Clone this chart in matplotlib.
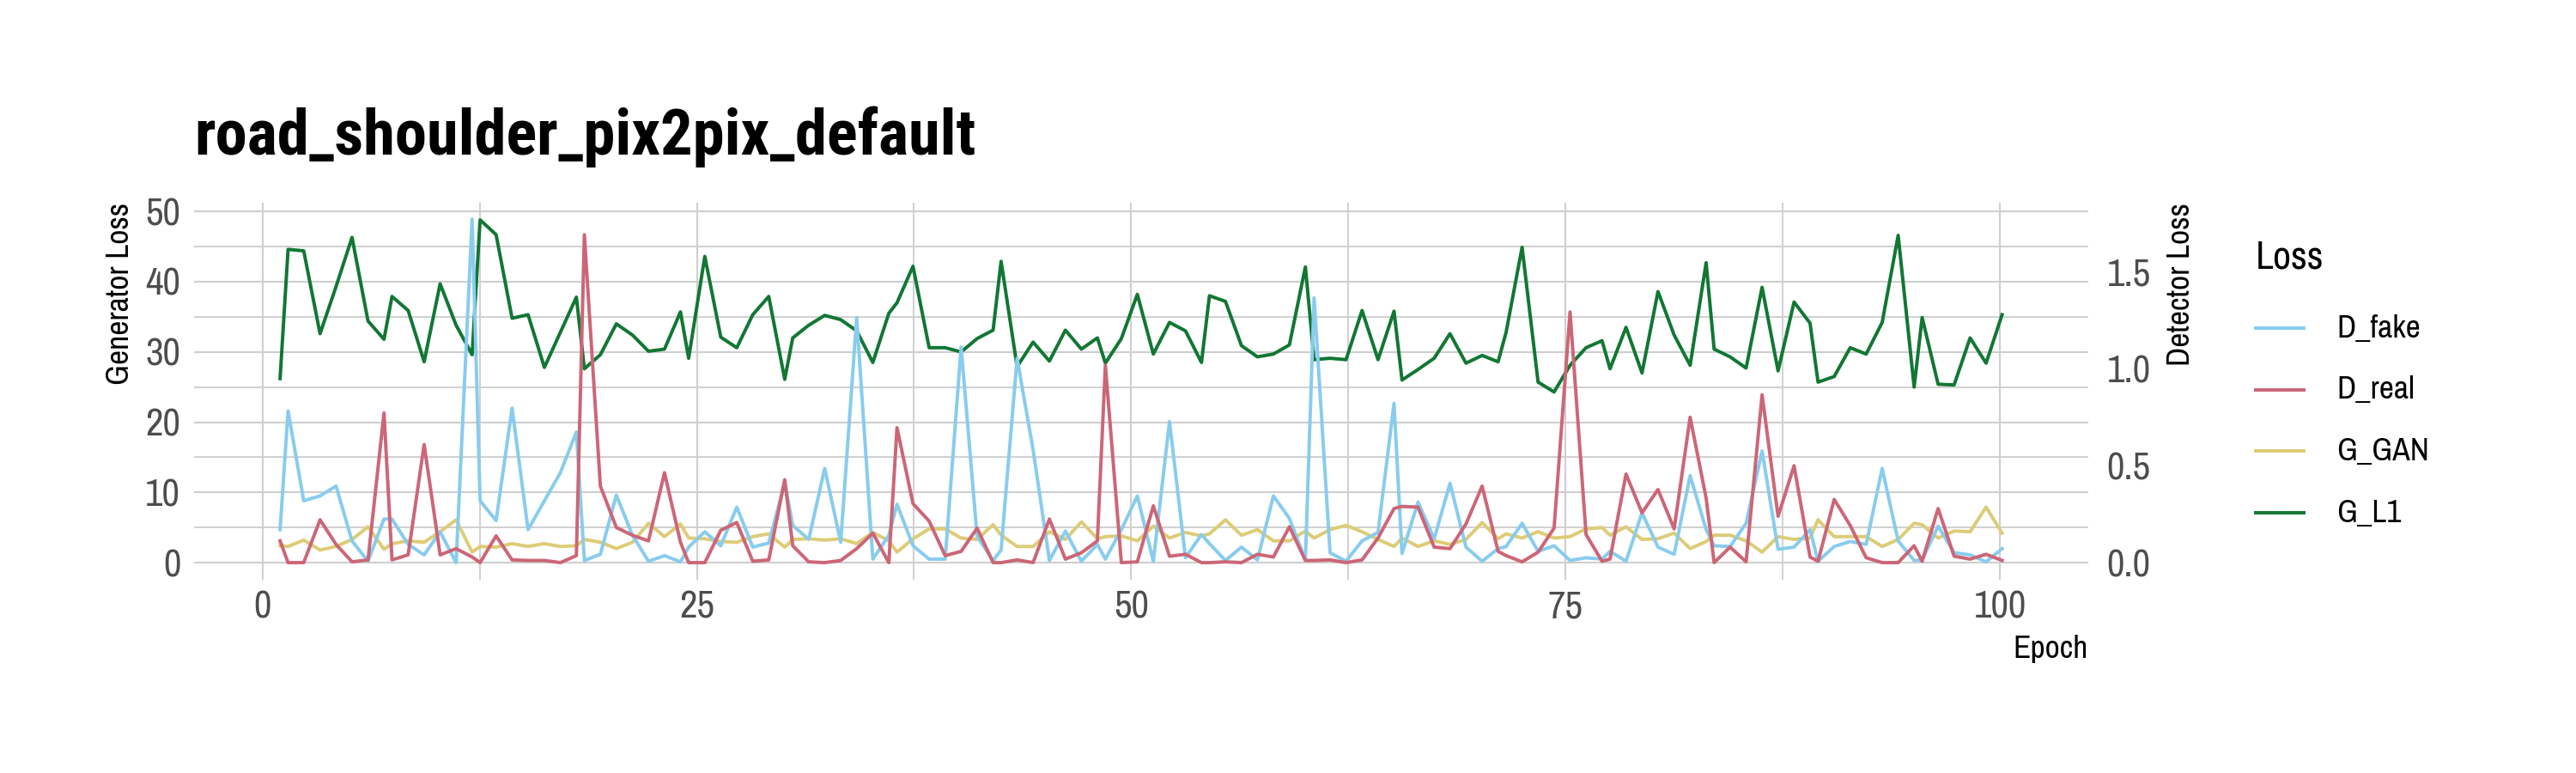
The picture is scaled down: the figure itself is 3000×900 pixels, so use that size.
import matplotlib
matplotlib.use("Agg")
import matplotlib.pyplot as plt
from matplotlib import font_manager
from matplotlib.lines import Line2D

# Data (x = fractional epoch)
epoch = [1.02, 1.48, 2.38, 3.32, 4.24, 5.16, 6.08, 7.00, 7.46, 8.39, 9.31, 10.23, 11.15, 12.07,
         12.53, 13.45, 14.37, 15.29, 16.23, 17.15, 18.07, 18.53, 19.45, 20.37,
         21.30, 22.22, 23.14, 24.06, 24.53, 25.46, 26.38, 27.30, 28.22, 29.14, 30.06, 30.52,
         31.44, 32.36, 33.28, 34.20, 35.13, 36.05, 36.52, 37.44, 38.37, 39.29, 40.21,
         41.13, 42.05, 42.51, 43.43, 44.35, 45.29, 46.21, 47.13, 48.05, 48.51, 49.43, 50.35,
         51.27, 52.20, 53.12, 54.04, 54.50, 55.42, 56.34, 57.26, 58.18, 59.10, 60.02, 60.52,
         61.44, 62.36, 63.28, 64.20, 65.12, 65.58, 66.50, 67.43, 68.34, 69.26, 70.19, 71.11,
         71.57, 72.49, 73.41, 74.33, 75.25, 76.17, 77.09, 77.55, 78.47, 79.39, 80.31,
         81.24, 82.16, 83.08, 83.54, 84.46, 85.38, 86.30, 87.22, 88.14, 89.06, 89.52, 90.45,
         91.37, 92.29, 93.21, 94.13, 95.05, 95.51, 96.43, 97.35, 98.27, 99.19, 100.11]

# generator losses (left axis)
g_l1 = [26.2, 44.6, 44.4, 32.6, 39.3, 46.3, 34.4, 31.8, 37.9, 35.9, 28.6, 39.7, 33.8, 29.6,
        48.8, 46.7, 34.8, 35.3, 27.8, 32.8, 37.8, 27.6, 29.6, 34.0,
        32.4, 30.1, 30.4, 35.7, 29.1, 43.6, 32.1, 30.6, 35.3, 37.9, 26.1, 32.0,
        33.8, 35.2, 34.6, 33.0, 28.5, 35.5, 37.0, 42.2, 30.6, 30.6, 30.0,
        31.9, 33.1, 42.9, 27.9, 31.4, 28.7, 33.1, 30.4, 32.0, 28.4, 31.9, 38.2,
        29.7, 34.2, 33.0, 28.5, 38.0, 37.2, 30.9, 29.3, 29.7, 31.0, 42.1, 28.9,
        29.1, 28.9, 35.9, 28.9, 35.8, 26.0, 27.5, 29.1, 32.6, 28.4, 29.5, 28.6,
        32.8, 44.9, 25.7, 24.3, 28.1, 30.6, 31.6, 27.6, 33.5, 27.0, 38.6,
        32.4, 28.1, 42.7, 30.4, 29.3, 27.7, 39.2, 27.3, 37.1, 34.1, 25.7, 26.5,
        30.6, 29.7, 34.2, 46.6, 25.0, 34.9, 25.4, 25.3, 32.0, 28.4, 35.3]

g_gan = [2.4, 2.3, 3.2, 1.8, 2.3, 3.3, 5.1, 1.9, 2.7, 3.1, 2.9, 4.4, 6.1, 1.5,
         2.3, 2.2, 2.7, 2.3, 2.7, 2.3, 2.4, 3.3, 2.9, 2.0,
         2.9, 5.6, 3.7, 5.5, 3.5, 3.4, 3.0, 2.9, 3.7, 4.1, 2.2, 3.3,
         3.4, 3.2, 3.4, 2.7, 4.3, 3.1, 1.5, 3.4, 4.8, 4.8, 3.5,
         3.3, 5.4, 3.9, 2.3, 2.3, 4.4, 3.3, 5.8, 3.4, 3.7, 3.8, 3.1,
         5.2, 3.5, 4.3, 3.8, 4.1, 6.1, 3.9, 4.7, 3.1, 3.1, 4.5, 3.5,
         4.7, 5.3, 4.4, 3.3, 2.3, 3.5, 2.3, 3.1, 2.6, 3.3, 5.7, 3.4,
         4.1, 3.5, 4.4, 3.5, 3.7, 4.8, 5.0, 3.9, 5.1, 3.3, 3.4,
         4.2, 2.0, 3.0, 3.9, 3.9, 3.1, 1.5, 3.7, 3.3, 3.5, 6.1, 3.7,
         3.7, 3.7, 2.3, 3.3, 5.6, 5.4, 3.5, 4.5, 4.4, 7.9, 4.2]

# detector losses (right axis)
d_fake = [0.170, 0.783, 0.319, 0.344, 0.395, 0.112, 0.007, 0.225, 0.225, 0.094, 0.040, 0.159,
          0.000, 1.772, 0.319, 0.217, 0.797, 0.170, 0.319, 0.464, 0.674, 0.011, 0.043, 0.348,
          0.141, 0.007, 0.036, 0.004, 0.080, 0.159, 0.087, 0.286, 0.080, 0.101, 0.413, 0.192,
          0.120, 0.486, 0.105, 1.264, 0.018, 0.141, 0.301, 0.087, 0.018, 0.018, 1.112,
          0.134, 0.011, 0.065, 1.054, 0.583, 0.011, 0.163, 0.007, 0.094, 0.018, 0.170, 0.344,
          0.007, 0.728, 0.025, 0.145, 0.098, 0.011, 0.080, 0.014, 0.344, 0.228, 0.014, 1.366,
          0.051, 0.007, 0.112, 0.156, 0.822, 0.047, 0.312, 0.123, 0.409, 0.080, 0.007, 0.072,
          0.083, 0.203, 0.058, 0.087, 0.011, 0.025, 0.018, 0.058, 0.007, 0.257, 0.080,
          0.043, 0.449, 0.170, 0.087, 0.083, 0.203, 0.576, 0.069, 0.080, 0.170, 0.007, 0.083,
          0.109, 0.094, 0.486, 0.112, 0.011, 0.014, 0.188, 0.051, 0.040, 0.004, 0.072]

d_real = [0.112, 0.0, 0.0, 0.221, 0.094, 0.004, 0.014, 0.772, 0.014, 0.040, 0.609, 0.040,
          0.072, 0.029, 0.0, 0.138, 0.014, 0.011, 0.011, 0.0, 0.036, 1.692, 0.395, 0.181,
          0.141, 0.112, 0.464, 0.105, 0.0, 0.0, 0.167, 0.207, 0.007, 0.014, 0.428, 0.087,
          0.004, 0.0, 0.011, 0.072, 0.152, 0.0, 0.696, 0.304, 0.214, 0.036, 0.058,
          0.178, 0.0, 0.0, 0.014, 0.0, 0.225, 0.018, 0.051, 0.112, 1.018, 0.0, 0.004,
          0.293, 0.033, 0.043, 0.0, 0.0, 0.004, 0.0, 0.043, 0.029, 0.185, 0.011, 0.011,
          0.014, 0.0, 0.014, 0.127, 0.279, 0.290, 0.286, 0.080, 0.072, 0.199, 0.395, 0.058,
          0.036, 0.004, 0.054, 0.178, 1.293, 0.145, 0.007, 0.018, 0.457, 0.257, 0.377,
          0.174, 0.750, 0.333, 0.0, 0.080, 0.004, 0.866, 0.239, 0.500, 0.029, 0.007, 0.326,
          0.192, 0.025, 0.0, 0.0, 0.087, 0.007, 0.279, 0.033, 0.018, 0.043, 0.011]

series_names = ["D_fake", "D_real", "G_GAN", "G_L1"]
colors = {"D_fake": "#88CCEE", "D_real": "#CC6677", "G_GAN": "#DDCC77", "G_L1": "#117733"}

x_ticks = [0, 25, 50, 75, 100]
y_ticks = [0, 10, 20, 30, 40, 50]
y2_ticks = [0.0, 0.5, 1.0, 1.5]
sec_scale = 27.6  # generator units per detector unit

NARROW = ["Liberation Sans Narrow", "Arial Narrow", "Archivo Narrow", "Roboto Condensed",
          "PT Sans Narrow", "Open Sans Condensed", "IBM Plex Sans Condensed",
          "Fira Sans Condensed", "Sofia Sans Condensed", "Encode Sans Condensed"]
WEIGHTS = {"bold": 700, "heavy": 800, "black": 900, "semibold": 600, "demibold": 600,
           "normal": 400, "regular": 400, "book": 400, "medium": 500}


def font_weights():
    out = {}
    for f in font_manager.fontManager.ttflist:
        w = f.weight
        if isinstance(w, str):
            w = WEIGHTS.get(w.lower(), 400)
        out.setdefault(f.name, set()).add(int(w))
    return out


avail = font_weights()
body_font = next((n for n in NARROW if n in avail), "Liberation Sans")
title_font = next((n for n in NARROW if n in avail and max(avail[n]) >= 700), "Liberation Sans")

plt.rcParams["font.family"] = [body_font, "DejaVu Sans"]

W, H = 3000, 900
fig = plt.figure(figsize=(10, 3), dpi=300)
ax = fig.add_axes([226 / W, 1 - 675 / H, 2206 / W, 439 / H])
ax2 = ax.twinx()

lw = 0.95
ax.plot(epoch, g_gan, color=colors["G_GAN"], lw=lw, solid_joinstyle="round")
ax.plot(epoch, g_l1, color=colors["G_L1"], lw=lw, solid_joinstyle="round")
ax2.plot(epoch, d_fake, color=colors["D_fake"], lw=lw, solid_joinstyle="round")
ax2.plot(epoch, d_real, color=colors["D_real"], lw=lw, solid_joinstyle="round")

ylo, yhi = -2.44, 51.25
ax.set_xlim(-3.93, 105.07)
ax.set_ylim(ylo, yhi)
ax2.set_ylim(ylo / sec_scale, yhi / sec_scale)

ax.set_xticks(x_ticks)
ax.set_xticks([12.5, 37.5, 62.5, 87.5], minor=True)
ax.set_yticks(y_ticks)
ax.set_yticks([5, 15, 25, 35, 45], minor=True)
ax2.set_yticks(y2_ticks)
ax2.set_yticklabels([f"{v:.1f}" for v in y2_ticks])

grid_c = "#CFCFCF"
ax.grid(True, which="major", color=grid_c, lw=0.5)
ax.grid(True, which="minor", color=grid_c, lw=0.45)
ax.set_axisbelow(True)

for a in (ax, ax2):
    for s in a.spines.values():
        s.set_visible(False)

tick_c = "#4D4D4D"
ax.tick_params(axis="both", which="both", length=0, labelsize=10.8, labelcolor=tick_c)
ax.tick_params(axis="y", pad=3.8)
ax.tick_params(axis="x", pad=3.0)
ax2.tick_params(axis="y", which="both", length=0, labelsize=10.8, labelcolor=tick_c, pad=5.2)

# titles
fig.text(226 / W, 1 - 180 / H, "road_shoulder_pix2pix_default", fontsize=17.9,
         fontweight="bold", family=[title_font, "DejaVu Sans"], ha="left", va="baseline")
fig.text(140 / W, 1 - 236 / H, "Generator Loss", rotation=90, fontsize=9,
         ha="center", va="top")
fig.text(2540 / W, 1 - 236 / H, "Detector Loss", rotation=90, fontsize=9,
         ha="center", va="top")
fig.text(2432 / W, 1 - 755 / H, "Epoch", fontsize=9, ha="right", va="center")

# legend
fig.text(2627 / W, 1 - 300 / H, "Loss", fontsize=11, ha="left", va="center")
for i, name in enumerate(series_names):
    yk = 1 - (382 + 71.7 * i) / H
    fig.add_artist(Line2D([2627 / W, 2683 / W], [yk, yk], color=colors[name], lw=lw,
                          transform=fig.transFigure))
    fig.text(2721 / W, yk, name, fontsize=9, ha="left", va="center")

fig.savefig("out.png", dpi=300, facecolor="white")
